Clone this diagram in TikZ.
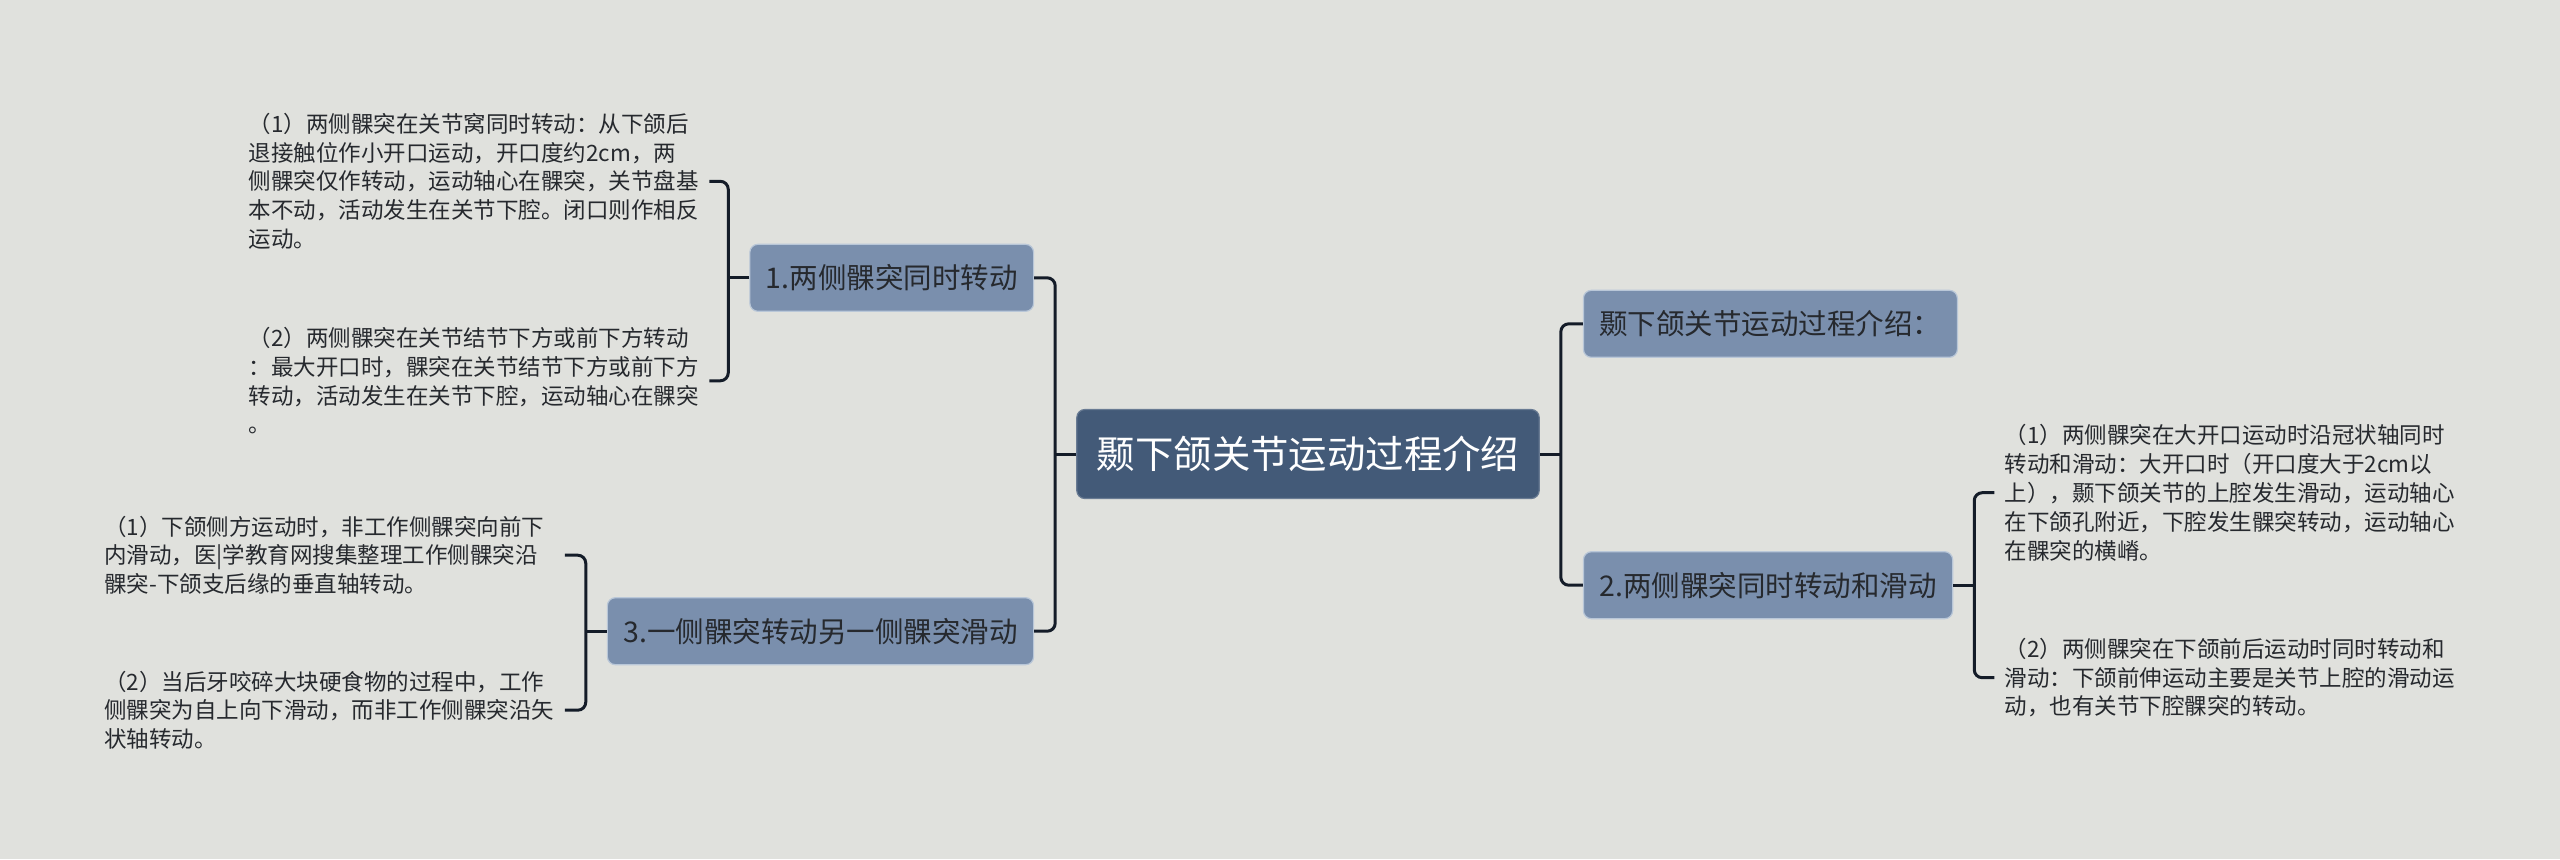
\documentclass[tikz,border=0pt]{standalone}
\usepackage{fontspec}
\setmainfont{Noto Sans CJK SC}
\usepackage{tikz}
\usetikzlibrary{positioning}
\definecolor{bgcolor}{HTML}{E0E1DD}
\definecolor{rootfill}{HTML}{435A78}
\definecolor{topicfill}{HTML}{7A8FAD}
\definecolor{topicedge}{HTML}{B9C7D8}
\definecolor{linkcolor}{HTML}{141C28}
\definecolor{textcolor}{HTML}{26292E}
\tikzset{
    jaw map/.style={
            node distance=20pt,
            rootbox/.style={fill=rootfill,draw=rootfill!80!white,line width=0.6pt,rounded corners=4pt,
                    text=white,font=\fontsize{19.2pt}{22pt}\selectfont,
                    inner xsep=10pt,minimum height=44.5pt},
            topicbox/.style={fill=topicfill,draw=topicedge,line width=0.6pt,rounded corners=4pt,
                    text=textcolor,font=\fontsize{14.25pt}{17pt}\selectfont,
                    inner xsep=8pt,minimum height=33.5pt},
            detailbox/.style={text=textcolor,font=\fontsize{11.25pt}{14.4pt}\selectfont,
                    text width=225pt,align=left,inner xsep=5pt,inner ysep=0pt},
            link/.style={draw=linkcolor,line width=1.5pt,rounded corners=4pt}
        }
    }

\begin{document}
\begin{tikzpicture}[jaw map]
    \useasboundingbox [fill=bgcolor] (0,0) rectangle (1280pt,-429.5pt);
    \node (jaw) [rootbox] at (654pt,-227pt) {颞下颌关节运动过程介绍};
    \node (both) [topicbox,above left=48.5pt and 21pt of jaw] {1.两侧髁突同时转动};
    \node (oneside) [topicbox,below left=49pt and 21pt of jaw] {3.一侧髁突转动另一侧髁突滑动};
    \node (intro) [topicbox,above right=25.5pt and 21.5pt of jaw] {颞下颌关节运动过程介绍：};
    \node (slide) [topicbox,below right=26pt and 21.5pt of jaw] {2.两侧髁突同时转动和滑动};

    \node (both1) [detailbox,left=20pt of both.west,yshift=48.25pt] {（1）两侧髁突在关节窝同时转动：从下颌后\\
        退接触位作小开口运动，开口度约2cm，两\\
        侧髁突仅作转动，运动轴心在髁突，关节盘基\\
        本不动，活动发生在关节下腔。闭口则作相反\\
        运动。};
    \node (both2) [detailbox,left=20pt of both.west,yshift=-51.5pt] {（2）两侧髁突在关节结节下方或前下方转动\\
        ：最大开口时，髁突在关节结节下方或前下方\\
        转动，活动发生在关节下腔，运动轴心在髁突\\
        。};
    \node (oneside1) [detailbox,left=21pt of oneside.west,yshift=38pt] {（1）下颌侧方运动时，非工作侧髁突向前下\\
        内滑动，医|学教育网搜集整理工作侧髁突沿\\
        髁突-下颌支后缘的垂直轴转动。};
    \node (oneside2) [detailbox,left=21pt of oneside.west,yshift=-39.5pt] {（2）当后牙咬碎大块硬食物的过程中，工作\\
        侧髁突为自上向下滑动，而非工作侧髁突沿矢\\
        状轴转动。};
    \node (slide1) [detailbox,right=20.5pt of slide.east,yshift=46.25pt] {（1）两侧髁突在大开口运动时沿冠状轴同时\\
        转动和滑动：大开口时（开口度大于2cm以\\
        上），颞下颌关节的上腔发生滑动，运动轴心\\
        在下颌孔附近，下腔发生髁突转动，运动轴心\\
        在髁突的横嵴。};
    \node (slide2) [detailbox,right=20.5pt of slide.east,yshift=-46.25pt] {（2）两侧髁突在下颌前后运动时同时转动和\\
        滑动：下颌前伸运动主要是关节上腔的滑动运\\
        动，也有关节下腔髁突的转动。};

    % branch joints
    \coordinate [left=10.5pt of jaw.west] (jl);
    \coordinate [right=10.5pt of jaw.east] (jr);
    \coordinate [left=10.5pt of both.west] (bl);
    \coordinate [left=10.5pt of oneside.west] (ol);
    \coordinate [right=10.5pt of slide.east] (sr);

    \draw [link] (jaw.west) -- (jl);
    \draw [link] (both.east) -| (jl) |- (oneside.east);
    \draw [link] (jaw.east) -- (jr);
    \draw [link] (intro.west) -| (jr) |- (slide.west);

    \draw [link] (both.west) -- (bl);
    \draw [link] (both1.east) -| (bl) |- (both2.east);
    \draw [link] (oneside.west) -- (ol);
    \draw [link] (oneside1.east) -| (ol) |- (oneside2.east);
    \draw [link] (slide.east) -- (sr);
    \draw [link] (slide1.west) -| (sr) |- (slide2.west);
\end{tikzpicture}
\end{document}
